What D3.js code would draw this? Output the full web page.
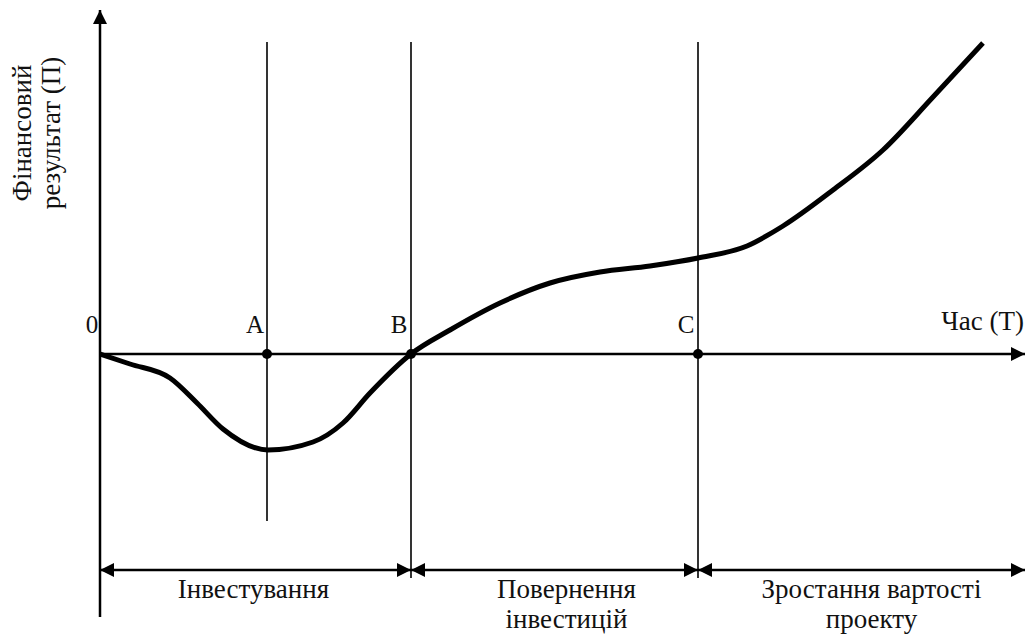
<html>
<script src="https://d3js.org/d3.v7.min.js"></script>
<style>
  body { margin: 0; background: #fff; }
</style>
<body onload="init()">
<svg width="1025" height="636"></svg>
<script>
// time (abstract units) and financial result along the curve
const curveT = [0, 30, 70, 97, 123, 168, 213, 243, 270, 311, 350, 400, 450, 500, 550, 598, 647, 683, 733, 783, 833, 883];
const curveP = [0, -10, -24, -49, -75, -96, -88, -69, -39, 0, 24, 51, 71, 82, 88, 96, 108, 128, 164, 204, 257, 311];

// points on the time axis
const pointNames = ["A", "B", "C"];
const pointT = [167, 311, 598];

// phases below the chart
const phaseStart = [0, 311, 598];
const phaseEnd = [311, 598, 925];
const phaseLabels = [["Інвестування"], ["Повернення", "інвестицій"], ["Зростання вартості", "проекту"]];

const xTitle = "Час (T)";
const yTitle = ["Фінансовий", "результат (П)"];
const originLabel = "0";

const FONT = "'Liberation Serif', 'DejaVu Serif', serif";

function init() {
  const svg = d3.select("svg");
  const x = d3.scaleLinear().domain([0, 925]).range([100, 1025]);
  const y = d3.scaleLinear().domain([-263, 344]).range([617, 10]);

  const defs = svg.append("defs");
  defs.append("marker").attr("id", "arr")
    .attr("viewBox", "0 0 10 10").attr("refX", 10).attr("refY", 5)
    .attr("markerWidth", 16).attr("markerHeight", 14).attr("markerUnits", "userSpaceOnUse")
    .attr("orient", "auto-start-reverse")
    .append("path").attr("d", "M0,0 L10,5 L0,10 Z").attr("fill", "#000");

  // axes
  svg.append("line").attr("x1", x(0)).attr("x2", x(0)).attr("y1", 617).attr("y2", y(344))
    .attr("stroke", "#000").attr("stroke-width", 2.5).attr("marker-end", "url(#arr)");
  svg.append("line").attr("x1", x(0)).attr("x2", x(925)).attr("y1", y(0)).attr("y2", y(0))
    .attr("stroke", "#000").attr("stroke-width", 2.5).attr("marker-end", "url(#arr)");

  // vertical guide lines
  svg.selectAll(".vl").data(pointT).enter().append("line")
    .attr("x1", d => x(d)).attr("x2", d => x(d))
    .attr("y1", y(312)).attr("y2", (d, i) => i == 0 ? y(-167) : y(-224))
    .attr("stroke", "#000").attr("stroke-width", 1.6);

  // curve
  const pts = curveT.map((t, i) => [x(t), y(curveP[i])]);
  svg.append("path").attr("d", d3.line().curve(d3.curveMonotoneX)(pts))
    .attr("fill", "none").attr("stroke", "#000").attr("stroke-width", 5);

  // dots and point labels
  svg.selectAll(".dot").data(pointT).enter().append("circle")
    .attr("cx", d => x(d)).attr("cy", y(0)).attr("r", 5).attr("fill", "#000");

  const txt = (sel, fs) => sel.attr("font-family", FONT).attr("font-size", fs || 27).attr("fill", "#111");

  svg.selectAll(".pl").data(pointNames).enter().append("text")
    .attr("x", (d, i) => x(pointT[i]) - 12).attr("y", y(21))
    .attr("text-anchor", "middle").call(txt, 25).text(d => d);
  svg.append("text").attr("x", x(-8)).attr("y", y(21)).attr("text-anchor", "middle")
    .call(txt, 25).text(originLabel);
  svg.append("text").attr("x", 1024).attr("y", y(24)).attr("text-anchor", "end")
    .call(txt).text(xTitle);

  // y title
  yTitle.forEach((s, i) => {
    svg.append("text").attr("transform", `translate(${31 + i * 29},133) rotate(-90)`)
      .attr("text-anchor", "middle").call(txt).text(s);
  });

  // phase arrows
  const ay = 570;
  phaseStart.forEach((s, i) => {
    svg.append("line").attr("x1", x(s)).attr("x2", x(phaseEnd[i])).attr("y1", ay).attr("y2", ay)
      .attr("stroke", "#000").attr("stroke-width", 2.5)
      .attr("marker-start", "url(#arr)").attr("marker-end", "url(#arr)");
    const cx = (x(s) + x(phaseEnd[i])) / 2 + (i == 0 ? -2 : i == 2 ? 10 : 12);
    phaseLabels[i].forEach((s2, j) => {
      svg.append("text").attr("x", cx).attr("y", 598 + j * 30)
        .attr("text-anchor", "middle").call(txt).text(s2);
    });
  });
}
</script>
</body>
</html>
